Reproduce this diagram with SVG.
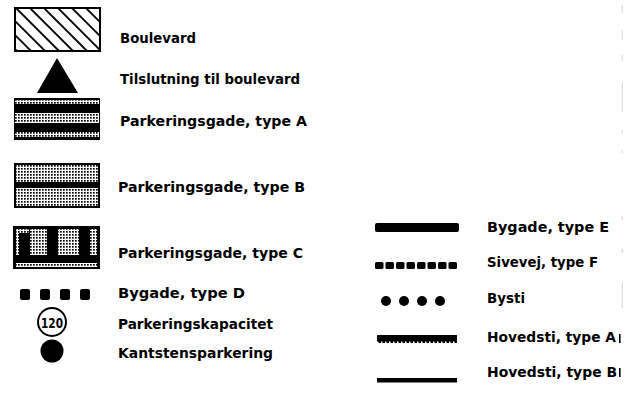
<svg xmlns="http://www.w3.org/2000/svg" width="627" height="397" viewBox="0 0 627 397">
<style>
text{font-family:"DejaVu Sans","Liberation Sans",Arial,sans-serif;font-weight:bold;font-size:14px;fill:#000}
.blk{fill:#000}
.st{fill:url(#stip)}
.hatch{stroke:#000;stroke-width:1.8}
.edge{fill:#c8c8c8}
</style>
<defs>
<pattern id="stip" width="3" height="3" patternUnits="userSpaceOnUse">
<rect width="3" height="3" fill="#fff"/>
<rect x="0" y="0" width="1.7" height="1.7" fill="#000"/>
</pattern>
<pattern id="notch" width="4" height="8" patternUnits="userSpaceOnUse">
<rect width="4" height="8" fill="#000"/>
<rect x="1" y="5.5" width="1.5" height="1.5" fill="#fff"/>
</pattern>
<clipPath id="bclip"><rect x="15" y="8" width="85" height="43"/></clipPath>
</defs>
<rect width="627" height="397" fill="#fff"/>

<g id="boulevard">
<g clip-path="url(#bclip)" class="hatch">
<line x1="-40" y1="8" x2="3" y2="51"/>
<line x1="-26" y1="8" x2="17" y2="51"/>
<line x1="-12" y1="8" x2="31" y2="51"/>
<line x1="2" y1="8" x2="45" y2="51"/>
<line x1="16" y1="8" x2="59" y2="51"/>
<line x1="30" y1="8" x2="73" y2="51"/>
<line x1="44" y1="8" x2="87" y2="51"/>
<line x1="58" y1="8" x2="101" y2="51"/>
<line x1="72" y1="8" x2="115" y2="51"/>
<line x1="86" y1="8" x2="129" y2="51"/>
</g>
<rect x="15" y="8" width="85" height="43" fill="none" stroke="#000" stroke-width="2"/>
<text x="120" y="43" textLength="76" lengthAdjust="spacingAndGlyphs">Boulevard</text>
</g>

<g id="tilslutning">
<polygon points="57,58 37,93 78,93" class="blk"/>
<text x="120" y="84" textLength="180" lengthAdjust="spacingAndGlyphs">Tilslutning til boulevard</text>
</g>

<g id="parkA">
<rect x="14" y="98" width="86" height="42" class="blk"/>
<rect x="15" y="100" width="84" height="4" class="st"/>
<rect x="15" y="113" width="84" height="10" class="st"/>
<rect x="15" y="132" width="84" height="5" class="st"/>
<text x="120" y="126" textLength="187" lengthAdjust="spacingAndGlyphs">Parkeringsgade, type A</text>
</g>

<g id="parkB">
<rect x="14" y="163" width="86" height="45" class="blk"/>
<rect x="16" y="165" width="82" height="17" class="st"/>
<rect x="16" y="188" width="82" height="18" class="st"/>
<text x="118" y="192" textLength="187" lengthAdjust="spacingAndGlyphs">Parkeringsgade, type B</text>
</g>

<g id="parkC">
<rect x="13" y="226" width="87" height="43" class="blk"/>
<rect x="16" y="229" width="3" height="26" class="st"/>
<rect x="19" y="229" width="10" height="4" class="st"/>
<rect x="30" y="229" width="17" height="26" class="st"/>
<rect x="58" y="229" width="21" height="26" class="st"/>
<rect x="90" y="229" width="7" height="26" class="st"/>
<rect x="16" y="263" width="81" height="4" class="st"/>
<text x="118" y="258" textLength="185" lengthAdjust="spacingAndGlyphs">Parkeringsgade, type C</text>
</g>

<g id="bygadeD">
<rect x="20" y="289" width="10" height="11" rx="2" class="blk"/>
<rect x="40" y="289" width="10" height="11" rx="2" class="blk"/>
<rect x="60" y="289" width="10" height="11" rx="2" class="blk"/>
<rect x="80" y="289" width="10" height="11" rx="2" class="blk"/>
<text x="118" y="298" textLength="127" lengthAdjust="spacingAndGlyphs">Bygade, type D</text>
</g>

<g id="kapacitet">
<circle cx="52" cy="322" r="14" fill="none" stroke="#000" stroke-width="2"/>
<text x="52" y="327.5" text-anchor="middle" textLength="22" lengthAdjust="spacingAndGlyphs">120</text>
<text x="118" y="329" textLength="155" lengthAdjust="spacingAndGlyphs">Parkeringskapacitet</text>
</g>

<g id="kantsten">
<circle cx="52" cy="351" r="11.5" class="blk"/>
<text x="118" y="358" textLength="155" lengthAdjust="spacingAndGlyphs">Kantstensparkering</text>
</g>

<g id="bygadeE">
<rect x="375" y="223" width="84" height="9" rx="2" class="blk"/>
<text x="487" y="232" textLength="122" lengthAdjust="spacingAndGlyphs">Bygade, type E</text>
</g>

<g id="sivevejF">
<rect x="375" y="262" width="8.5" height="7" rx="1.5" class="blk"/>
<rect x="385.5" y="262" width="8.5" height="7" rx="1.5" class="blk"/>
<rect x="396" y="262" width="8.5" height="7" rx="1.5" class="blk"/>
<rect x="406.5" y="262" width="8.5" height="7" rx="1.5" class="blk"/>
<rect x="417" y="262" width="8.5" height="7" rx="1.5" class="blk"/>
<rect x="427.5" y="262" width="8.5" height="7" rx="1.5" class="blk"/>
<rect x="438" y="262" width="8.5" height="7" rx="1.5" class="blk"/>
<rect x="448.5" y="262" width="8.5" height="7" rx="1.5" class="blk"/>
<text x="487" y="267" textLength="111" lengthAdjust="spacingAndGlyphs">Sivevej, type F</text>
</g>

<g id="bysti">
<circle cx="386" cy="301" r="5" class="blk"/>
<circle cx="404" cy="301" r="5" class="blk"/>
<circle cx="422" cy="301" r="5" class="blk"/>
<circle cx="440" cy="301" r="5" class="blk"/>
<text x="487" y="303" textLength="38" lengthAdjust="spacingAndGlyphs">Bysti</text>
</g>

<g id="hovedstiA">
<rect x="377" y="335" width="80" height="8" fill="url(#notch)"/>
<text x="487" y="342" textLength="129" lengthAdjust="spacingAndGlyphs">Hovedsti, type A</text>
</g>

<g id="hovedstiB">
<rect x="377" y="378" width="80" height="4.5" class="blk"/>
<text x="487" y="377" textLength="130" lengthAdjust="spacingAndGlyphs">Hovedsti, type B</text>
</g>

<g id="edge-marks">
<rect x="621.8" y="5" width="0.8" height="8" class="edge"/>
<rect x="621.8" y="30" width="0.8" height="10" class="edge"/>
<rect x="621.8" y="55" width="0.8" height="6" class="edge"/>
<rect x="621.8" y="82" width="0.8" height="30" class="edge"/>
<rect x="621.8" y="130" width="0.8" height="3" class="edge"/>
<rect x="621.8" y="150" width="0.8" height="3" class="edge"/>
<rect x="621.8" y="216" width="0.8" height="4" class="edge"/>
<rect x="621.8" y="249" width="0.8" height="4" class="edge"/>
<rect x="621.8" y="282" width="0.8" height="26" class="edge"/>
<rect x="619" y="334" width="1.6" height="9" class="blk"/>
<rect x="619" y="368" width="1.6" height="9" class="blk"/>
</g>
</svg>
